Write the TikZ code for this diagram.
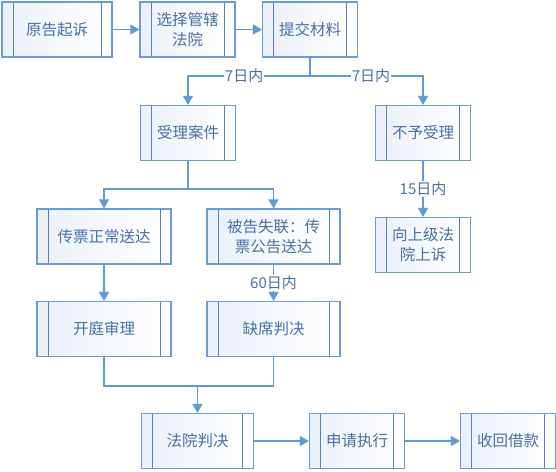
\documentclass[tikz,border=0pt]{standalone}
\usepackage{fontspec}
\setmainfont{Noto Sans CJK SC}
\usetikzlibrary{arrows.meta}
\definecolor{boxline}{RGB}{105,155,212}
\definecolor{boxinner}{RGB}{85,128,188}
\definecolor{boxfill}{RGB}{234,240,249}
\definecolor{txtblue}{RGB}{72,112,165}
\definecolor{connblue}{RGB}{95,155,213}
\tikzset{
  proc/.style={draw=boxline, line width=1.1pt, minimum height=55pt,
    minimum width=95pt, inner sep=0pt, align=center, text=txtblue,
    left color=boxfill, right color=white,
    font=\fontsize{15.5}{20}\selectfont,
    path picture={
      \draw[boxinner, line width=1pt]
        ([xshift=11pt]path picture bounding box.north west) --
        ([xshift=11pt]path picture bounding box.south west);
      \draw[boxinner, line width=1pt]
        ([xshift=-11pt]path picture bounding box.north east) --
        ([xshift=-11pt]path picture bounding box.south east);
    }},
  conn/.style={draw=connblue, line width=1.1pt},
  arr/.style={conn, -{Triangle[width=10pt,length=9pt]}},
  lbl/.style={fill=white, text=txtblue, inner sep=1pt,
    font=\fontsize{15}{18}\selectfont}
}
\begin{document}
\begin{tikzpicture}[x=1pt,y=-1pt]
        \useasboundingbox (0,0) rectangle (556,471);
        % first row
        \node[proc, minimum width=110pt] (sue) at (57,29.5) {原告起诉};
        \node[proc] (court) at (187.5,29.5) {选择管辖\\法院};
        \node[proc] (submit) at (310,29.5) {提交材料};
        % accept or reject
        \node[proc] (accept) at (188,133) {受理案件};
        \node[proc] (reject) at (423,133) {不予受理};
        \node[proc] (appeal) at (423,245) {向上级法\\院上诉};
        % service of summons
        \node[proc, minimum width=134pt] (normal) at (104,236.5) {传票正常送达};
        \node[proc, minimum width=133pt] (notice) at (273.5,236.5) {被告失联：传\\票公告送达};
        \node[proc, minimum width=134pt] (trial) at (104,329) {开庭审理};
        \node[proc, minimum width=133pt] (absent) at (273.5,329) {缺席判决};
        % last row
        \node[proc, minimum width=112pt] (judge) at (197.5,441) {法院判决};
        \node[proc] (enforce) at (357,441) {申请执行};
        \node[proc] (repay) at (508,441) {收回借款};
        \coordinate (split1) at (310,76);
        \coordinate (split2) at (188,189);
        \coordinate (join) at (197.5,386);
        % connectors
        \draw[arr] (sue) -- (court);
        \draw[arr] (court) -- (submit);
        \draw[conn] (submit) -- (split1);
        \draw[arr] (split1) -| node[lbl, pos=0.27] {7日内} (accept.north);
        \draw[arr] (split1) -| node[lbl, pos=0.27] {7日内} (reject.north);
        \draw[arr] (reject) -- node[lbl] {15日内} (appeal);
        \draw[conn] (accept) -- (split2);
        \draw[arr] (split2) -| (normal.north);
        \draw[arr] (split2) -| (notice.north);
        \draw[arr] (normal) -- (trial);
        \draw[arr] (notice) -- node[lbl] {60日内} (absent);
        \draw[conn] (trial.south) |- (join) -| (absent.south);
        \draw[arr] (join) -- (judge.north);
        \draw[arr] (judge) -- (enforce);
        \draw[arr] (enforce) -- (repay);
\end{tikzpicture}
\end{document}
